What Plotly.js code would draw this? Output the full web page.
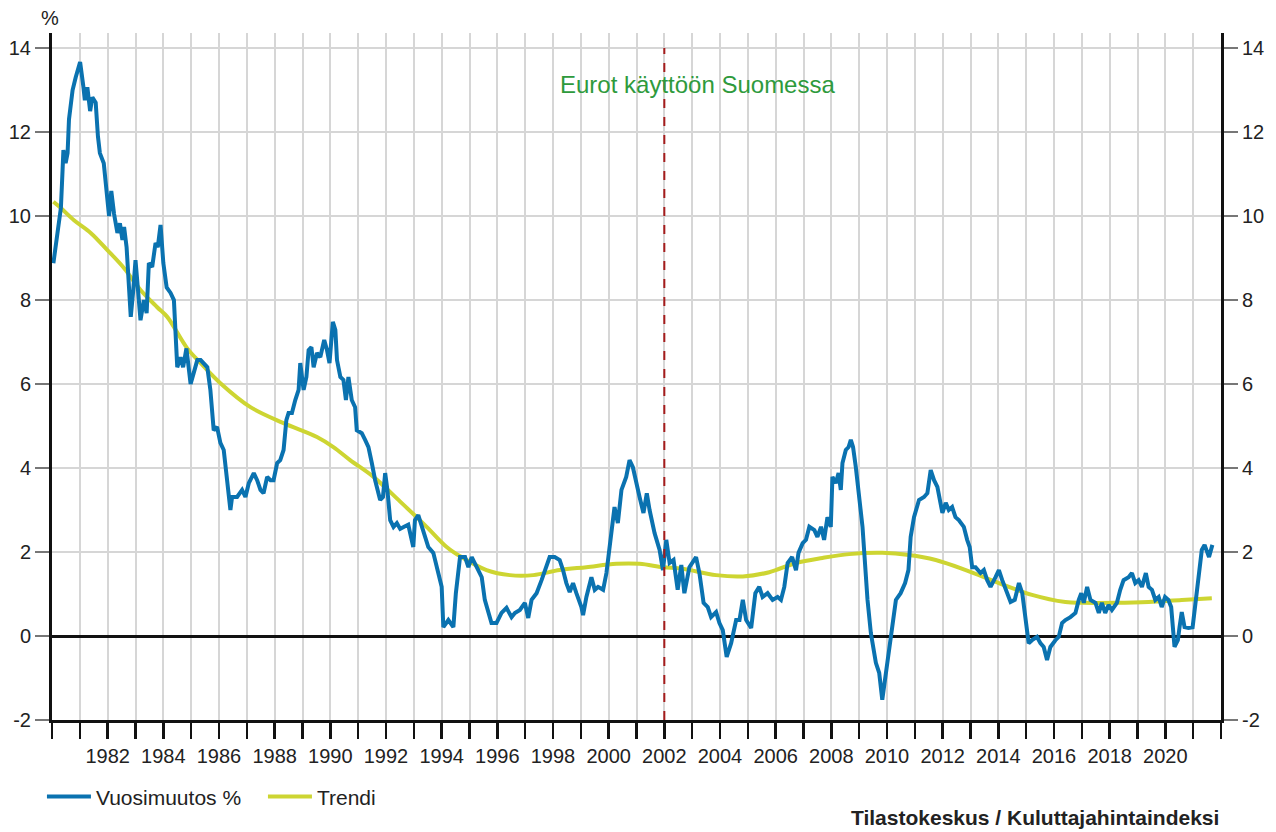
<!DOCTYPE html>
<html>
<head>
<meta charset="utf-8">
<script src="https://cdn.plot.ly/plotly-3.0.1.min.js"></script>
<style>
html,body{margin:0;padding:0;background:#fff;}
#chart{width:1276px;height:832px;}
</style>
</head>
<body>
<div id="chart"></div>
<script>
// Vuosimuutos % (annual change), x in decimal years
const changeDates = [1980.05,1980.20,1980.32,1980.38,1980.41,1980.49,1980.56,1980.61,1980.74,1980.85,
1981.01,1981.13,1981.18,1981.27,1981.37,1981.45,1981.57,1981.65,1981.72,1981.86,1981.93,1981.99,
1982.05,1982.13,1982.23,1982.35,1982.44,1982.53,1982.59,1982.68,1982.76,1982.83,1982.92,
1983.00,1983.09,1983.18,1983.30,1983.40,1983.48,1983.60,1983.72,1983.80,1983.90,
1984.00,1984.12,1984.26,1984.38,1984.44,1984.50,1984.62,1984.71,1984.83,1984.98,
1985.09,1985.22,1985.34,1985.58,1985.69,1985.81,1985.93,
1986.05,1986.17,1986.29,1986.41,1986.47,1986.65,1986.83,1986.95,
1987.07,1987.25,1987.37,1987.49,1987.60,1987.73,1987.85,1987.96,
1988.09,1988.20,1988.32,1988.42,1988.50,1988.62,1988.74,1988.86,1988.92,
1989.04,1989.14,1989.22,1989.32,1989.40,1989.52,1989.64,1989.78,1989.88,1989.97,
1990.09,1990.18,1990.24,1990.36,1990.47,1990.56,1990.65,1990.77,1990.89,1990.95,
1991.13,1991.25,1991.37,1991.49,1991.61,1991.79,1991.89,1991.97,
1992.05,1992.15,1992.27,1992.39,1992.51,1992.65,1992.80,1992.98,
1993.04,1993.16,1993.34,1993.52,1993.70,1993.88,
1994.00,1994.06,1994.24,1994.42,1994.51,1994.66,1994.84,1994.96,
1995.08,1995.26,1995.44,1995.55,1995.67,1995.79,1995.97,
1996.15,1996.33,1996.51,1996.63,1996.81,1996.99,
1997.11,1997.23,1997.41,1997.59,1997.71,1997.88,
1998.06,1998.24,1998.36,1998.48,1998.60,1998.72,1998.84,
1999.02,1999.08,1999.20,1999.38,1999.50,1999.62,1999.80,1999.92,
2000.04,2000.21,2000.33,2000.46,2000.63,2000.75,2000.87,2000.99,
2001.11,2001.25,2001.37,2001.47,2001.65,2001.83,2001.95,
2002.07,2002.19,2002.33,2002.48,2002.61,2002.72,2002.90,
2003.14,2003.26,2003.41,2003.56,2003.68,2003.86,2003.98,
2004.10,2004.24,2004.40,2004.58,2004.70,2004.82,2004.94,
2005.12,2005.27,2005.41,2005.53,2005.71,2005.89,
2006.07,2006.19,2006.31,2006.43,2006.59,2006.73,2006.82,2006.97,
2007.09,2007.21,2007.39,2007.50,2007.63,2007.74,2007.86,2007.98,
2008.04,2008.16,2008.26,2008.34,2008.40,2008.52,2008.62,2008.70,2008.78,2008.88,2008.97,
2009.12,2009.30,2009.42,2009.60,2009.72,2009.83,2009.96,
2010.08,2010.20,2010.32,2010.49,2010.65,2010.77,2010.85,2010.97,
2011.15,2011.33,2011.45,2011.57,2011.69,2011.81,2011.99,
2012.11,2012.22,2012.34,2012.46,2012.58,2012.76,2012.88,2012.97,
2013.06,2013.18,2013.36,2013.48,2013.60,2013.72,2013.90,
2014.02,2014.14,2014.26,2014.44,2014.59,2014.74,2014.86,2014.98,
2015.09,2015.21,2015.39,2015.51,2015.63,2015.75,2015.87,
2016.05,2016.17,2016.29,2016.41,2016.59,2016.77,2016.89,2016.98,
2017.07,2017.19,2017.31,2017.49,2017.61,2017.72,2017.84,2017.96,
2018.08,2018.26,2018.38,2018.50,2018.68,2018.80,2018.92,
2019.04,2019.16,2019.30,2019.40,2019.52,2019.64,2019.76,2019.87,2019.99,
2020.11,2020.21,2020.33,2020.45,2020.51,2020.59,2020.69,2020.83,2020.98,
2021.07,2021.19,2021.31,2021.41,2021.49,2021.57,2021.69];

const changeValues = [8.88,9.6,10.2,11.1,11.57,11.26,11.5,12.3,13.0,13.3,
13.67,13.07,12.76,13.07,12.5,12.83,12.7,11.9,11.5,11.26,10.86,10.4,
10.0,10.6,10.05,9.6,9.83,9.43,9.74,9.26,8.48,7.6,8.24,
8.95,8.24,7.52,8.0,7.69,8.88,8.79,9.36,9.26,9.79,
8.88,8.3,8.17,8.0,7.36,6.4,6.64,6.4,6.85,6.0,
6.26,6.57,6.57,6.4,5.86,4.9,4.98,
4.6,4.43,3.64,3.0,3.31,3.31,3.48,3.31,
3.64,3.88,3.71,3.48,3.4,3.79,3.71,3.71,
4.12,4.19,4.43,5.14,5.31,5.31,5.62,5.86,6.5,
5.86,6.17,6.81,6.88,6.4,6.74,6.64,7.05,6.81,6.5,
7.48,7.29,6.57,6.17,6.1,5.62,6.17,5.62,5.45,4.9,
4.83,4.67,4.5,4.12,3.71,3.24,3.31,3.88,
3.48,2.76,2.6,2.69,2.55,2.6,2.65,2.12,
2.76,2.88,2.52,2.12,1.98,1.5,
1.17,0.21,0.38,0.21,1.02,1.88,1.88,1.64,
1.88,1.64,1.4,0.86,0.55,0.31,0.31,
0.55,0.67,0.45,0.55,0.62,0.79,
0.43,0.86,1.02,1.33,1.57,1.88,
1.88,1.81,1.57,1.26,1.05,1.26,1.02,
0.69,0.5,0.93,1.4,1.1,1.17,1.1,1.5,
2.12,3.07,2.69,3.48,3.79,4.19,4.02,3.71,
3.31,2.93,3.4,3.0,2.45,2.05,1.57,
2.29,1.74,1.81,1.1,1.69,1.02,1.64,
1.88,1.5,0.79,0.69,0.45,0.57,0.31,
0.14,-0.5,-0.17,0.38,0.38,0.86,0.38,
0.19,1.02,1.17,0.93,1.02,0.86,
0.93,0.86,1.17,1.74,1.88,1.57,1.98,2.21,
2.29,2.6,2.52,2.36,2.6,2.29,2.83,2.6,
3.79,3.64,3.88,3.48,4.12,4.43,4.5,4.67,4.5,4.02,3.52,
2.6,0.86,0.07,-0.64,-0.88,-1.52,-0.88,
-0.33,0.21,0.86,1.02,1.26,1.57,2.36,2.83,
3.24,3.31,3.4,3.95,3.71,3.55,2.93,
3.17,3.0,3.07,2.83,2.76,2.6,2.29,2.12,
1.64,1.64,1.5,1.57,1.33,1.17,1.4,
1.57,1.33,1.1,0.81,0.86,1.26,1.02,0.45,
-0.17,-0.1,-0.02,-0.17,-0.26,-0.57,-0.26,
-0.1,-0.02,0.31,0.38,0.45,0.55,0.86,1.02,
0.79,1.17,0.86,0.79,0.55,0.79,0.55,0.74,
0.62,0.79,1.1,1.33,1.4,1.5,1.26,
1.33,1.17,1.5,1.17,1.1,0.86,0.93,0.69,0.93,
0.86,0.69,-0.26,-0.1,0.21,0.57,0.21,0.19,0.21,
0.69,1.33,2.05,2.17,2.05,1.88,2.17];

// Trendi
const trendDates = [1980.05,1980.32,1980.79,1981.39,1981.99,1982.59,1983.18,1983.78,1984.14,1984.86,
1985.34,1986.05,1987.13,1988.32,1989.52,1990.11,1990.71,1991.55,1992.51,1993.46,1994.18,1994.66,
1995.61,1996.45,1997.29,1998.24,1999.20,2000.28,2001.11,2001.95,2002.66,2003.86,2004.82,2005.77,
2006.73,2007.68,2008.64,2009.83,2010.79,2011.75,2012.83,2014.02,2015.21,2016.41,2017.01,2018.20,
2019.40,2020.59,2021.67];
const trendValues = [10.34,10.19,9.9,9.6,9.19,8.76,8.24,7.83,7.6,6.85,
6.5,6.02,5.45,5.07,4.74,4.5,4.19,3.79,3.2,2.6,2.12,1.9,
1.57,1.45,1.45,1.57,1.64,1.72,1.72,1.64,1.6,1.45,1.42,1.52,
1.74,1.86,1.95,1.98,1.93,1.81,1.57,1.26,0.98,0.81,0.79,0.79,
0.81,0.86,0.9];

const tickYears = [];
const tickLabels = [];
for (let yr = 1980; yr <= 2022; yr++) {
  tickYears.push(yr);
  tickLabels.push((yr % 2 === 0 && yr >= 1982 && yr <= 2020) ? String(yr) : '');
}
const yTickVals = [-2, 0, 2, 4, 6, 8, 10, 12, 14];
const yTickText = ['-2', '0', '2', '4', '6', '8', '10', '12', '14'];
const seriesNames = ['Vuosimuutos %', 'Trendi'];
const euroYear = 2002;
const euroLabel = 'Eurot käyttöön Suomessa';
const sourceLabel = 'Tilastokeskus / Kuluttajahintaindeksi';

const FONT = 'Liberation Sans, Arial, sans-serif';
const yRange = [-2, 14.36];

const traces = [
  {x: trendDates, y: trendValues, name: seriesNames[1], type: 'scatter', mode: 'lines',
   line: {color: '#cdd532', width: 4, shape: 'spline', smoothing: 1.0}, legendrank: 2, hoverinfo: 'skip'},
  {x: changeDates, y: changeValues, name: seriesNames[0], type: 'scatter', mode: 'lines',
   line: {color: '#0a72b0', width: 4}, legendrank: 1},
  {x: [1980, 2022], y: [0, 0], yaxis: 'y2', mode: 'lines', line: {width: 0}, showlegend: false, hoverinfo: 'skip'}
];

const layout = {
  width: 1276, height: 832,
  margin: {l: 52, r: 55, t: 33, b: 112},
  paper_bgcolor: '#fff', plot_bgcolor: '#fff',
  font: {family: FONT, size: 20, color: '#222'},
  showlegend: true,
  legend: {orientation: 'h', x: -0.0086, xanchor: 'left', y: -0.112, yanchor: 'middle',
    font: {family: FONT, size: 21, color: '#222'}, itemwidth: 44,
    entrywidth: 162, entrywidthmode: 'pixels',
    bgcolor: 'rgba(0,0,0,0)'},
  xaxis: {
    range: [1980, 2022], tickmode: 'array', tickvals: tickYears, ticktext: tickLabels,
    showgrid: true, gridcolor: '#d6d6d6', gridwidth: 2,
    showline: true, linecolor: '#111', linewidth: 3,
    ticks: 'outside', ticklen: 16, tickwidth: 2.5, tickcolor: '#111',
    tickfont: {family: FONT, size: 20, color: '#222'}, zeroline: false, fixedrange: true
  },
  yaxis: {
    range: yRange, tickmode: 'array', tickvals: yTickVals, ticktext: yTickText,
    showgrid: true, gridcolor: '#d6d6d6', gridwidth: 2,
    zeroline: true, zerolinecolor: '#111', zerolinewidth: 3,
    showline: true, linecolor: '#111', linewidth: 3,
    ticks: 'outside', ticklen: 14, tickwidth: 2, tickcolor: '#777',
    tickfont: {family: FONT, size: 20, color: '#222'}, fixedrange: true
  },
  yaxis2: {
    range: yRange, overlaying: 'y', side: 'right', tickmode: 'array', tickvals: yTickVals, ticktext: yTickText,
    showgrid: false, zeroline: false,
    showline: true, linecolor: '#111', linewidth: 3,
    ticks: 'outside', ticklen: 14, tickwidth: 2, tickcolor: '#777',
    tickfont: {family: FONT, size: 20, color: '#222'}, fixedrange: true
  },
  shapes: [
    {type: 'line', xref: 'x', yref: 'y', x0: euroYear, x1: euroYear, y0: -2, y1: 14,
     line: {color: '#a51c1c', width: 2, dash: 'dash'}, layer: 'above'}
  ],
  annotations: [
    {text: euroLabel, xref: 'x', yref: 'y', x: 2003.19, y: 13.14, showarrow: false,
     font: {family: FONT, size: 24, color: '#2e9a3c'}, xanchor: 'center', yanchor: 'middle'},
    {text: '%', xref: 'paper', yref: 'paper', x: -0.002, y: 1.022, showarrow: false,
     font: {family: FONT, size: 20, color: '#222'}, xanchor: 'center', yanchor: 'middle'},
    {text: '<b>' + sourceLabel + '</b>', xref: 'paper', yref: 'paper', x: 1.0, y: -0.1426, showarrow: false,
     font: {family: FONT, size: 21, color: '#222'}, xanchor: 'right', yanchor: 'middle'}
  ]
};

Plotly.newPlot('chart', traces, layout, {displayModeBar: false, staticPlot: true});
</script>
</body>
</html>
